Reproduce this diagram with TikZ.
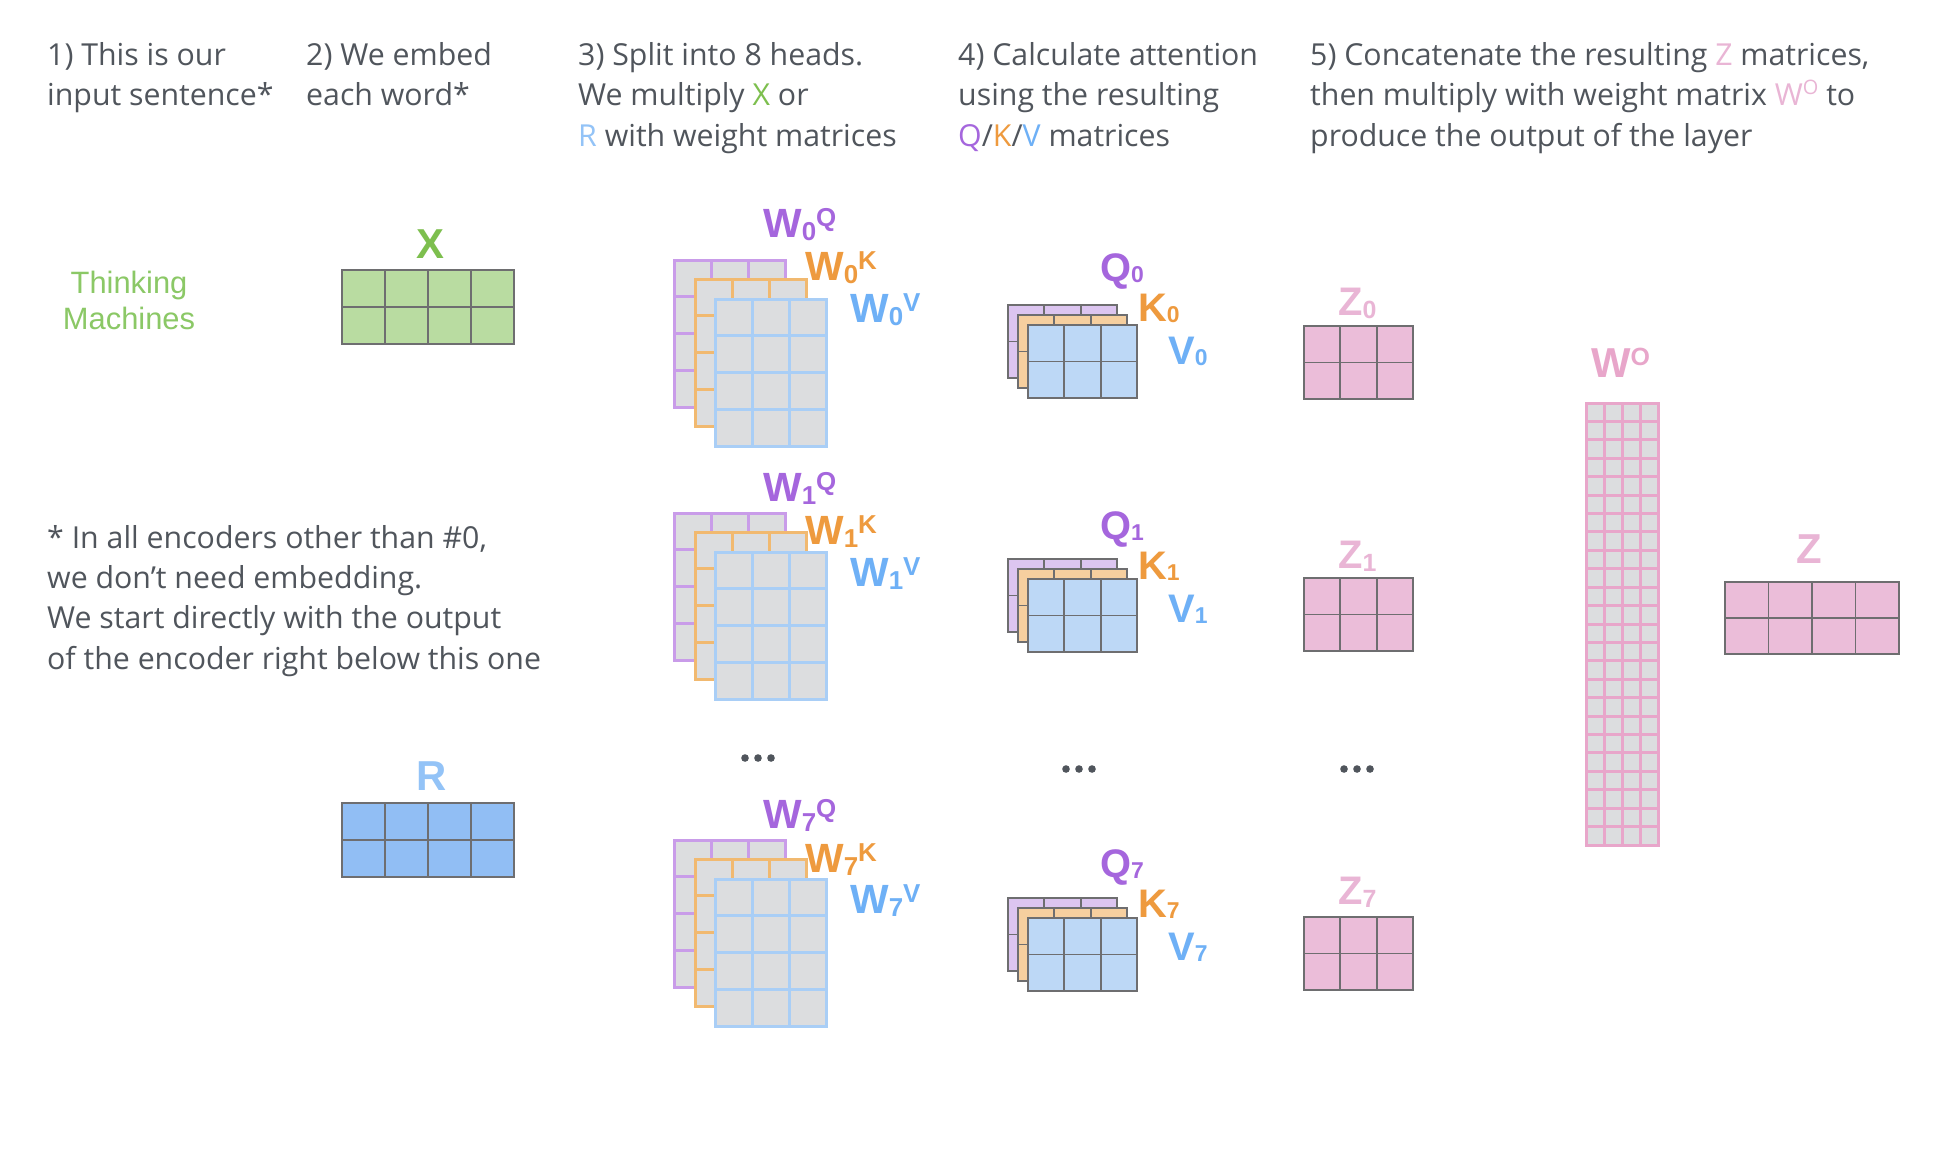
\documentclass[tikz,border=0pt]{standalone}
\usepackage{fontspec}
\setmainfont{Open Sans}
\newfontfamily\labfont{Liberation Sans}
\definecolor{txt}{HTML}{50555C}
\definecolor{cgreen}{HTML}{7DBF4E}
\definecolor{xfill}{HTML}{B9DCA1}
\definecolor{rfill}{HTML}{91BEF4}
\definecolor{rlab}{HTML}{93C3F7}
\definecolor{mline}{HTML}{6E6E70}
\definecolor{wgray}{HTML}{DCDDDF}
\definecolor{wpur}{HTML}{C99CE9}
\definecolor{wora}{HTML}{F1B970}
\definecolor{wblu}{HTML}{A9CEF6}
\definecolor{lpur}{HTML}{A566DD}
\definecolor{lora}{HTML}{EE9A3E}
\definecolor{lblu}{HTML}{6EB0F6}
\definecolor{qpur}{HTML}{DCC5F0}
\definecolor{qora}{HTML}{F6CF9F}
\definecolor{qblu}{HTML}{BDD8F6}
\definecolor{zfill}{HTML}{EBBDD9}
\definecolor{pinkl}{HTML}{E9B5D5}
\definecolor{wopink}{HTML}{E8A6CA}
\definecolor{tmgreen}{HTML}{8BC866}

% grid matrix: x y w h cols rows style
\newcommand\mgrid[7]{%
  \path[#7] (#1,#2) rectangle ++(#3,#4);
  \foreach \k in {1,...,#5}{\ifnum\k<#5\relax\draw[#7,fill=none] ({#1+\k*(#3)/(#5)},#2) -- ++(0,#4);\fi}%
  \foreach \k in {1,...,#6}{\ifnum\k<#6\relax\draw[#7,fill=none] (#1,{#2+\k*(#4)/(#6)}) -- ++(#3,0);\fi}%
}
\newcommand\wstack[2]{%
  \mgrid{#1}{#2}{111}{147}{3}{4}{wmat=wpur}
  \mgrid{#1+21}{#2+19}{111}{147}{3}{4}{wmat=wora}
  \mgrid{#1+41}{#2+39}{111}{147}{3}{4}{wmat=wblu}
}
\newcommand\qstack[2]{%
  \mgrid{#1}{#2}{109}{73}{3}{2}{dmat=qpur}
  \mgrid{#1+10}{#2+10}{109}{73}{3}{2}{dmat=qora}
  \mgrid{#1+20}{#2+20}{109}{73}{3}{2}{dmat=qblu}
}
\newcommand\WL[2]{{\fontsize{41}{41}\selectfont W}\raisebox{-3.5bp}{\fontsize{26}{26}\selectfont #1}\raisebox{11bp}{\fontsize{26}{26}\selectfont #2}}
\newcommand\QL[2]{{\fontsize{40}{40}\selectfont #1}\raisebox{-1bp}{\fontsize{23}{23}\selectfont #2}}
\newcommand\ZL[1]{{\fontsize{40}{40}\selectfont Z}\raisebox{-3bp}{\fontsize{25}{25}\selectfont #1}}
\newcommand\threedots[2]{\foreach \dx in {-13,0,13}{\fill[txt] ({#1+\dx},#2) circle[radius=3.8bp];}}

\begin{document}
\begin{tikzpicture}[x={(1bp,0)},y={(0,-1bp)},
  hdr/.style={anchor=base west, align=left, inner sep=0, text=txt, font=\fontsize{30.4}{40.6}\selectfont},
  lab/.style={anchor=base west, inner sep=0, font=\labfont\bfseries},
  wmat/.style={fill=wgray, draw=#1, line width=3bp},
  dmat/.style={fill=#1, draw=mline, line width=1.8bp},
  pmat/.style={fill=wgray, draw=wopink, line width=3bp}]
\useasboundingbox[fill=white] (0,0) rectangle (1958,1162);

% header texts (anchor = baseline of last line)
\node[hdr] (h1) at (47,105.5) {1) This is our\\input sentence*};
\node[hdr] (h2) at (306,105.5) {2) We embed\\each word*};
\node[hdr] (h3) at (578,146) {3) Split into 8 heads.\\We multiply {\color{cgreen}X} or\\{\color{rlab}R} with weight matrices};
\node[hdr] (h4) at (958,146) {4) Calculate attention\\using the resulting\\{\color{lpur}Q}/{\color{lora}K}/{\color{lblu}V} matrices};
\node[hdr] (h5) at (1310,146) {5) Concatenate the resulting {\color{pinkl}Z} matrices,\\then multiply with weight matrix {\color{pinkl}W\raisebox{0.36em}{\fontsize{20}{20}\selectfont O}} to\\produce the output of the layer};

% footnote
\node[hdr, font=\fontsize{30.4}{40.4}\selectfont] (fn) at (47,669) {* In all encoders other than \#0,\\we don’t need embedding.\\We start directly with the output\\of the encoder right below this one};

% input sentence
\node[anchor=base, align=center, inner sep=0, text=tmgreen, font=\labfont\fontsize{31}{36}\selectfont] (tm) at (129,329) {Thinking\\Machines};

% X and R
\mgrid{342}{270}{172}{74}{4}{2}{dmat=xfill}
\node[lab, text=cgreen, font=\labfont\bfseries\fontsize{42}{42}\selectfont] (xl) at (416,258) {X};
\mgrid{342}{803}{172}{74}{4}{2}{dmat=rfill}
\node[lab, text=rlab, font=\labfont\bfseries\fontsize{42}{42}\selectfont] (rl) at (416,790) {R};

% weight stacks
\wstack{674}{260}
\wstack{674}{513}
\wstack{674}{840}
\node[lab, text=lpur] (w0q) at (763,237) {\WL{0}{Q}};
\node[lab, text=lora] (w0k) at (805,280) {\WL{0}{K}};
\node[lab, text=lblu] (w0v) at (850,322) {\WL{0}{V}};
\node[lab, text=lpur] (w1q) at (763,501) {\WL{1}{Q}};
\node[lab, text=lora] (w1k) at (805,544) {\WL{1}{K}};
\node[lab, text=lblu] (w1v) at (850,586) {\WL{1}{V}};
\node[lab, text=lpur] (w7q) at (763,828) {\WL{7}{Q}};
\node[lab, text=lora] (w7k) at (805,872) {\WL{7}{K}};
\node[lab, text=lblu] (w7v) at (850,913) {\WL{7}{V}};
\threedots{758}{758}

% Q K V stacks
\qstack{1008}{305}
\qstack{1008}{559}
\qstack{1008}{898}
\node[lab, text=lpur] (q0) at (1100,281) {\QL{Q}{0}};
\node[lab, text=lora] (k0) at (1138,321) {\QL{K}{0}};
\node[lab, text=lblu] (v0) at (1168,364) {\QL{V}{0}};
\node[lab, text=lpur] (q1) at (1100,539) {\QL{Q}{1}};
\node[lab, text=lora] (k1) at (1138,579) {\QL{K}{1}};
\node[lab, text=lblu] (v1) at (1168,622) {\QL{V}{1}};
\node[lab, text=lpur] (q7) at (1100,877) {\QL{Q}{7}};
\node[lab, text=lora] (k7) at (1138,917) {\QL{K}{7}};
\node[lab, text=lblu] (v7) at (1168,960) {\QL{V}{7}};
\threedots{1079}{769}

% Z matrices
\mgrid{1304}{326}{109}{73}{3}{2}{dmat=zfill}
\mgrid{1304}{578}{109}{73}{3}{2}{dmat=zfill}
\mgrid{1304}{917}{109}{73}{3}{2}{dmat=zfill}
\node[lab, text=pinkl] (z0) at (1338,315) {\ZL{0}};
\node[lab, text=pinkl] (z1) at (1338,568) {\ZL{1}};
\node[lab, text=pinkl] (z7) at (1338,904) {\ZL{7}};
\threedots{1357}{769}

% W^O
\mgrid{1586}{403}{72}{442}{4}{24}{pmat}
\node[lab, text=wopink] (wo) at (1591,377) {{\fontsize{42}{42}\selectfont W}\raisebox{12bp}{\fontsize{25}{25}\selectfont O}};

% Z output
\mgrid{1725}{582}{174}{72}{4}{2}{dmat=zfill}
\node[lab, text=pinkl, font=\labfont\bfseries\fontsize{42}{42}\selectfont] (zo) at (1796,563) {Z};
\end{tikzpicture}
\end{document}
